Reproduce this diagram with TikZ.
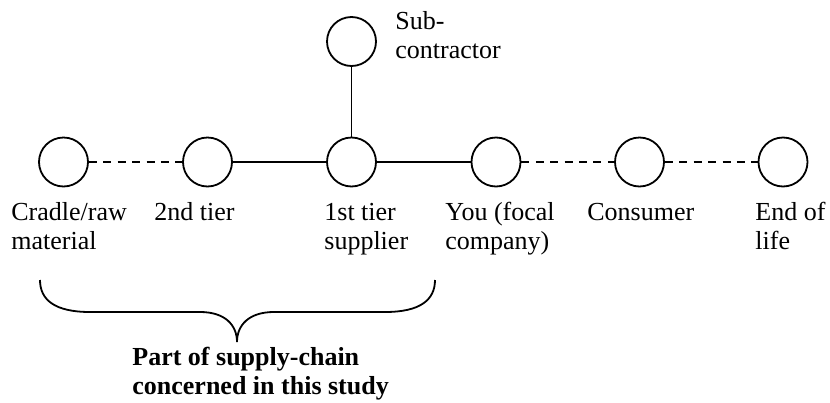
\documentclass[tikz,border=0pt]{standalone}
\usepackage{fontspec}
\setmainfont{Liberation Serif}
\begin{document}
\begin{tikzpicture}[x=0.5pt,y=-0.5pt,
  stage/.style={circle,draw,line width=0.9pt,minimum size=24.5pt,inner sep=0pt},
  lbl/.style={anchor=base west,align=left,inner sep=0pt,font=\fontsize{13}{14.5}\selectfont},
  link/.style={line width=0.9pt},
  dlink/.style={line width=0.9pt,dash pattern=on 4pt off 3.2pt}]
\useasboundingbox (0,0) rectangle (830,402);
\node[stage] (c1) at (63.5,162) {};
\node[stage] (c2) at (207.5,162) {};
\node[stage] (c3) at (351.5,162) {};
\node[stage] (c4) at (496,162) {};
\node[stage] (c5) at (639.5,162) {};
\node[stage] (c6) at (783,162) {};
\node[stage] (sub) at (351.5,41.5) {};
\draw[dlink] (c1) -- (c2);
\draw[link] (c2) -- (c3);
\draw[link] (c3) -- (c4);
\draw[dlink] (c4) -- (c5);
\draw[dlink] (c5) -- (c6);
\draw[link] (c3) -- (sub);
\node[lbl] (tsub) at (395,58) {Sub-\\contractor};
\node[lbl] (t1) at (11,249) {Cradle/raw\\material};
\node[lbl] (t2) at (154,220) {2nd tier};
\node[lbl] (t3) at (324,249) {1st tier\\supplier};
\node[lbl] (t4) at (445,249) {You (focal\\company)};
\node[lbl] (t5) at (587,220) {Consumer};
\node[lbl] (t6) at (755,249) {End of\\life};
\draw[link] (40,280) .. controls (40,300) and (55,312) .. (90,312) -- (200,312)
  .. controls (225,312) and (237,325) .. (237,342)
  .. controls (237,325) and (249,312) .. (274,312) -- (385,312)
  .. controls (420,312) and (435,300) .. (435,280);
\node[lbl,font=\fontsize{13}{14.5}\selectfont\bfseries] (note) at (132,394) {Part of supply-chain\\concerned in this study};
\end{tikzpicture}
\end{document}
